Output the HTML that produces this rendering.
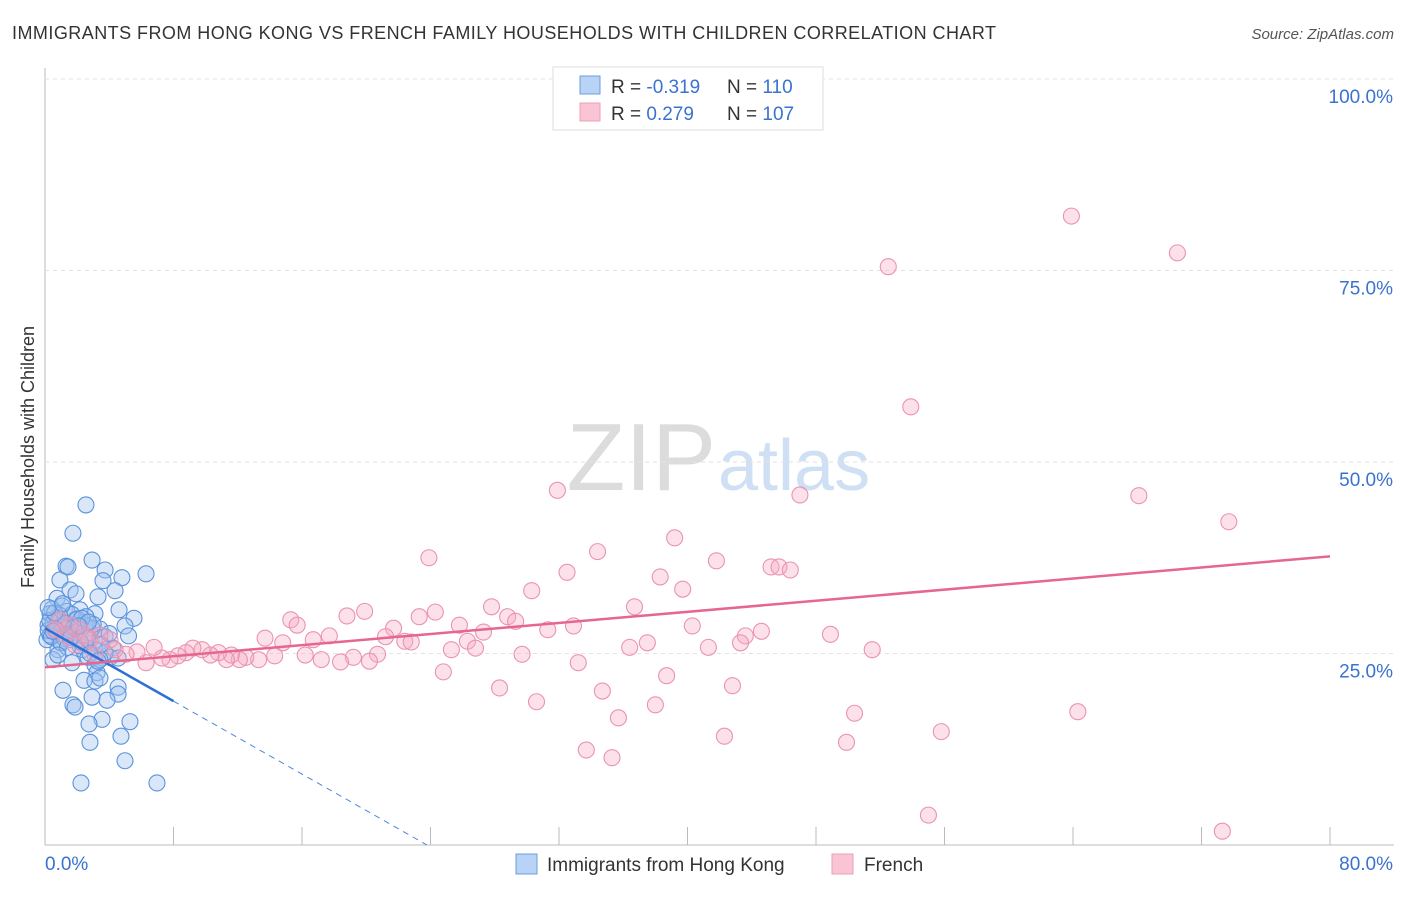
<!DOCTYPE html>
<html><head><meta charset="utf-8"><style>
body{margin:0;background:#fff;font-family:"Liberation Sans",sans-serif}
svg text{font-family:"Liberation Sans",sans-serif}
</style></head><body>
<svg id="c" width="1406" height="892" xmlns="http://www.w3.org/2000/svg">
<text x="12" y="39" font-size="18" fill="#333" textLength="984">IMMIGRANTS FROM HONG KONG VS FRENCH FAMILY HOUSEHOLDS WITH CHILDREN CORRELATION CHART</text>
<text x="1394" y="39" font-size="15" fill="#555" font-style="italic" text-anchor="end">Source: ZipAtlas.com</text>
<text x="716" y="490" font-size="96" fill="#dcdcdc" font-family="Liberation Serif" text-anchor="end">ZIP</text>
<text x="718" y="490" font-size="72" fill="#cfe0f5">atlas</text>
<text transform="translate(34,457) rotate(-90)" font-size="18" fill="#333" text-anchor="middle">Family Households with Children</text>
<g id="grid"></g><g id="pts"></g><g id="lines"></g>
<g>
<rect x="553" y="67" width="270" height="63" fill="#fff" stroke="#ddd"/>
<rect x="580" y="76" width="20" height="18" fill="#b8d3f5" stroke="#6a9ee0"/>
<rect x="580" y="103" width="20" height="18" fill="#fac4d4" stroke="#ee9fb7"/>
<text x="611" y="93" font-size="19" fill="#333">R = <tspan fill="#3a72d0">-0.319</tspan></text>
<text x="727" y="93" font-size="19" fill="#333">N = <tspan fill="#3a72d0"> 110</tspan></text>
<text x="611" y="120" font-size="19" fill="#333">R = <tspan fill="#3a72d0"> 0.279</tspan></text>
<text x="727" y="120" font-size="19" fill="#333">N = <tspan fill="#3a72d0">107</tspan></text>
</g>
<g>
<rect x="516" y="854" width="21" height="20" fill="#b8d3f5" stroke="#6a9ee0"/>
<text x="547" y="871" font-size="19" fill="#333">Immigrants from Hong Kong</text>
<rect x="832" y="854" width="21" height="20" fill="#fac4d4" stroke="#ee9fb7"/>
<text x="864" y="871" font-size="19" fill="#333">French</text>
</g>
</svg>
<script>
const yTicks=[25,50,75,100];
const xTickLabels=["0.0%","80.0%"];
const blueX=[2.55,1.74,2.93,1.31,1.43,3.74,6.29,4.79,3.61,0.93,4.36,1.56,0.75,3.30,1.93,4.61,3.11,5.54,1.06,0.44,2.18,2.55,0.62,0.19,1.25,4.98,3.42,0.68,1.56,2.80,3.74,0.12,0.93,2.05,3.42,4.23,0.81,2.37,2.68,4.05,0.50,1.68,3.11,4.55,3.24,2.43,3.11,3.42,4.55,1.12,2.93,4.55,3.86,1.74,1.87,3.55,5.29,2.74,4.73,2.80,4.98,2.24,6.97,0.31,0.81,1.37,1.87,2.49,2.93,1.06,0.31,1.56,2.18,3.11,3.74,2.68,1.68,3.42,0.2,0.5,1.0,1.5,2.0,2.6,3.0,0.4,0.9,1.3,1.9,2.3,0.3,0.7,1.2,1.8,2.2,2.7,3.5,4.0,0.6,1.0,1.6,2.1,0.2,0.5,1.4,2.8,3.3,1.1,0.8,5.2];
const blueY=[44.4,40.7,37.2,36.4,36.3,35.9,35.4,34.9,34.5,34.6,33.2,33.3,32.2,32.4,32.8,30.7,30.2,29.6,31.2,30.8,30.7,29.8,29.4,28.7,29.0,28.6,28.2,27.8,28.1,27.7,27.2,26.8,26.5,26.8,26.1,25.7,25.5,25.5,24.5,24.5,24.2,23.8,23.5,24.4,22.5,21.5,21.4,21.8,20.6,20.2,19.3,19.7,18.9,18.3,18.0,16.4,16.1,15.8,14.2,13.4,11.0,8.1,8.1,30.2,29.2,30.5,29.4,28.7,28.3,28.3,27.4,26.8,26.0,25.5,25.1,26.8,30.1,24.2,28.0,29.0,28.5,27.5,29.5,27.0,28.8,27.2,30.0,28.9,27.8,29.6,29.3,28.1,27.0,28.4,26.5,29.1,26.2,27.6,30.3,26.4,27.1,28.6,31.0,27.9,25.8,25.0,24.0,31.5,24.8,27.3];
const pinkX=[63.9,52.5,70.5,53.9,31.9,47.0,68.1,73.7,39.2,34.4,23.9,41.8,45.2,45.7,46.4,32.5,38.3,39.7,30.3,19.9,24.3,27.8,36.7,28.8,29.3,15.3,15.7,18.8,23.3,25.8,27.3,32.9,31.3,40.3,44.6,21.7,21.2,17.7,16.7,13.7,14.8,22.4,22.8,26.3,26.8,25.3,36.4,37.5,41.3,43.6,43.3,48.9,51.5,29.7,20.7,19.2,20.2,18.4,17.2,16.2,14.3,13.3,12.5,12.1,11.6,11.3,10.8,10.3,9.78,9.21,8.78,8.28,7.78,7.28,6.79,6.29,5.73,5.04,4.36,4.05,3.42,2.8,2.18,1.56,0.93,0.62,1.25,1.87,2.49,3.11,33.2,24.8,38.7,28.3,34.7,42.8,30.6,38.0,50.4,64.3,35.7,55.8,42.3,49.9,33.7,35.3,55.0,73.3];
const pinkY=[82.1,75.5,77.3,57.2,46.3,45.7,45.6,42.2,40.1,38.3,37.5,37.1,36.3,36.3,35.9,35.6,35.0,33.4,33.2,30.5,30.4,31.1,31.1,29.8,29.2,29.4,28.7,29.9,29.8,28.7,27.8,28.6,28.1,28.6,27.9,28.3,27.2,27.3,26.8,27.0,26.4,26.6,26.5,26.6,25.7,25.5,25.8,26.4,25.8,27.3,26.4,27.5,25.5,24.9,24.9,24.5,24.0,23.9,24.2,24.8,24.7,24.2,24.5,24.2,24.8,24.2,25.1,24.8,25.5,25.7,25.1,24.7,24.2,24.4,25.8,23.8,25.2,24.9,25.5,26.8,27.4,26.8,28.1,28.7,29.4,28.1,27.4,26.1,27.4,24.8,23.8,22.6,22.1,20.5,20.1,20.8,18.7,18.3,17.2,17.4,16.6,14.8,14.2,13.4,12.4,11.4,3.9,1.8];
const blueTrend=[28.3,-1.19];
const pinkTrend=[23.2,0.181];
const X0=45,X1=1330,Y0=845,Y100=79;
const sx=v=>X0+(v/80)*(X1-X0);
const sy=v=>Y0-(v/100)*(Y0-Y100);
const NS="http://www.w3.org/2000/svg";
function mk(t,a,p){const e=document.createElementNS(NS,t);for(const k in a)e.setAttribute(k,a[k]);p.appendChild(e);return e;}
const grid=document.getElementById('grid');
mk('line',{x1:X0,y1:68,x2:X0,y2:Y0,stroke:'#bbb'},grid);
mk('line',{x1:X0,y1:Y0,x2:1394,y2:Y0,stroke:'#bbb'},grid);
for(let i=1;i<=10;i++){const t=mk('line',{x1:sx(i*8),y1:Y0,x2:sx(i*8),y2:Y0-18,stroke:'#bbb'},grid);

}
yTicks.forEach(v=>{const l=mk('line',{x1:X0,y1:sy(v),x2:1394,y2:sy(v),stroke:'#e2e2e2','stroke-dasharray':'4,4'},grid);


const t=mk('text',{x:1393,y:sy(v)+24,'font-size':19,fill:'#3a72d0','text-anchor':'end'},grid);t.textContent=v.toFixed(1)+'%';

});
const xl0=mk('text',{x:45,y:870,'font-size':19,fill:'#3a72d0'},grid);xl0.textContent=xTickLabels[0];


const xl1=mk('text',{x:1393,y:870,'font-size':19,fill:'#3a72d0','text-anchor':'end'},grid);xl1.textContent=xTickLabels[1];


const pts=document.getElementById('pts');
blueX.forEach((x,i)=>{const c=mk('circle',{cx:sx(x),cy:sy(blueY[i]),r:8,fill:'rgba(160,195,240,0.4)',stroke:'#5a92dc','stroke-width':1.1},pts);

});
pinkX.forEach((x,i)=>{const c=mk('circle',{cx:sx(x),cy:sy(pinkY[i]),r:8,fill:'rgba(245,170,195,0.35)',stroke:'#eb93ae','stroke-width':1.1},pts);

});
const ln=document.getElementById('lines');
const bz=-blueTrend[0]/blueTrend[1];
const b1=mk('line',{x1:sx(0),y1:sy(blueTrend[0]),x2:sx(8),y2:sy(blueTrend[0]+blueTrend[1]*8),stroke:'#2e6fd6','stroke-width':2.5},ln);


const b2=mk('line',{x1:sx(8),y1:sy(blueTrend[0]+blueTrend[1]*8),x2:sx(bz),y2:sy(0),stroke:'#4a87d8','stroke-width':1,'stroke-dasharray':'6,5'},ln);


const p1=mk('line',{x1:sx(0),y1:sy(pinkTrend[0]),x2:sx(80),y2:sy(pinkTrend[0]+pinkTrend[1]*80),stroke:'#e5668f','stroke-width':2.5},ln);


</script>
</body></html>
